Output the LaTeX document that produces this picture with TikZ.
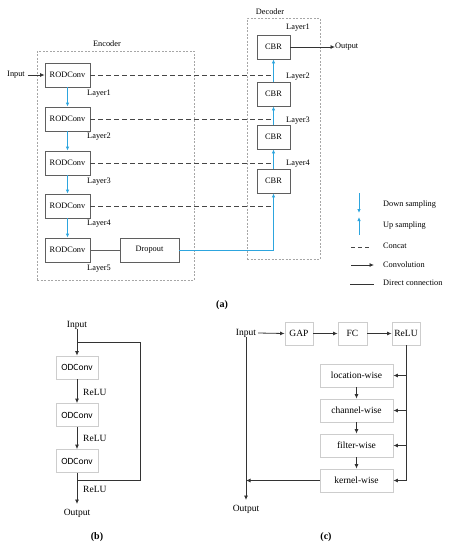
\documentclass[tikz,border=0pt]{standalone}
\usepackage{fontspec}
\setmainfont{Liberation Serif}
\newfontfamily\odfont{Carlito}
\usetikzlibrary{arrows.meta}
\definecolor{bl}{RGB}{45,165,222}
\definecolor{bx}{RGB}{95,95,95}
\definecolor{lbx}{RGB}{205,205,205}
\definecolor{dsh}{RGB}{70,70,70}
\tikzset{
  abox/.style={draw=bx, line width=0.8pt, minimum width=45pt, minimum height=24pt, inner sep=0pt, font=\fontsize{8.3}{10}\selectfont},
  cbox/.style={abox, minimum width=33pt},
  lbox/.style={draw=lbx, line width=0.8pt, minimum height=23pt, inner sep=0pt, font=\fontsize{9.5}{11}\selectfont},
  txa/.style={inner sep=0pt, font=\fontsize{8.3}{10}\selectfont},
  txb/.style={inner sep=0pt, font=\fontsize{9.5}{11}\selectfont},
  blar/.style={draw=bl, line width=0.8pt, -{Latex[length=4pt,width=3.5pt]}},
  blln/.style={draw=bl, line width=0.8pt},
  bkar/.style={draw=black!80, line width=0.8pt, -{Latex[length=4.5pt,width=4pt]}},
  bkln/.style={draw=black!80, line width=0.8pt},
  concat/.style={draw=dsh, line width=0.8pt, dash pattern=on 5pt off 3pt},
  region/.style={draw=black!35, line width=0.5pt, dash pattern=on 2pt off 1.5pt},
}
\begin{document}
\begin{tikzpicture}[x=1pt,y=-1pt]
\useasboundingbox (0,0) rectangle (449,550);
% ---------- (a) ----------
\node[region, minimum width=157pt, minimum height=229pt, inner sep=0pt] (enc) at (115.5,165.5) {};
\node[region, minimum width=73pt, minimum height=241pt, inner sep=0pt] (dec) at (283.5,138.5) {};
\node[txa] (enct) at (107,44) {Encoder};
\node[txa] (dect) at (270,12) {Decoder};

\node[abox] (r1) at (67.5,75) {RODConv};
\node[abox] (r2) at (67.5,119) {RODConv};
\node[abox] (r3) at (67.5,163) {RODConv};
\node[abox] (r4) at (67.5,206) {RODConv};
\node[abox] (r5) at (67.5,250) {RODConv};
\node[abox, minimum width=59pt] (drop) at (149.5,250) {Dropout};

\node[txa] (l1) at (99,94) {Layer1};
\node[txa] (l2) at (99,137) {Layer2};
\node[txa] (l3) at (99,182) {Layer3};
\node[txa] (l4) at (99,224) {Layer4};
\node[txa] (l5) at (99,269) {Layer5};

\node[cbox] (c1) at (273.5,47) {CBR};
\node[cbox] (c2) at (273.5,94) {CBR};
\node[cbox] (c3) at (273.5,137) {CBR};
\node[cbox] (c4) at (273.5,181) {CBR};
\node[txa] (d1) at (298,28) {Layer1};
\node[txa] (d2) at (298,77) {Layer2};
\node[txa] (d3) at (298,121) {Layer3};
\node[txa] (d4) at (298,164) {Layer4};

\node[txa] (ain) at (16,75) {Input};
\node[txa, anchor=west] (aout) at (335,47) {Output};
\draw[bkar] (ain.east) ++(3,0) coordinate (ainr) (ainr) -- (r1.west);
\draw[bkar] (c1.east) -- (aout.west);

\draw[blar] (r1.south) -- (r2.north);
\draw[blar] (r2.south) -- (r3.north);
\draw[blar] (r3.south) -- (r4.north);
\draw[blar] (r4.south) -- (r5.north);
\draw[blar] (c2.north) -- (c1.south);
\draw[blar] (c3.north) -- (c2.south);
\draw[blar] (c4.north) -- (c3.south);
\draw[bkln, draw=bx] (r5.east) -- (drop.west);
\draw[blar] (drop.east) -| (c4.south);

\draw[concat] (r1.east) -- (c1.south |- r1.east);
\draw[concat] (r2.east) -- (c2.south |- r2.east);
\draw[concat] (r3.east) -- (c3.south |- r3.east);
\draw[concat] (r4.east) -- (c4.south |- r4.east);

% legend
\coordinate (lgA) at (359,193);
\coordinate (lgB) at (359,213);
\coordinate (lgC) at (359,235);
\coordinate (lgD) at (359,217);
\draw[blar] (lgA) -- (lgB);
\draw[blar] (lgC) -- (lgD);
\node[txa, anchor=west] (lt1) at (383,205) {Down sampling};
\node[txa, anchor=west] (lt2) at (383,226) {Up sampling};
\node[txa, anchor=west] (lt3) at (383,246) {Concat};
\node[txa, anchor=west] (lt4) at (383,265) {Convolution};
\node[txa, anchor=west] (lt5) at (383,283) {Direct connection};
\coordinate (lc1) at (351,247); \coordinate (lc2) at (371,247);
\draw[concat, dash pattern=on 4pt off 3pt] (lc1) -- (lc2);
\coordinate (lv1) at (351,265); \coordinate (lv2) at (374,265);
\draw[bkar] (lv1) -- (lv2);
\coordinate (ld1) at (350,284); \coordinate (ld2) at (374,284);
\draw[bkln] (ld1) -- (ld2);
\node[inner sep=0pt, font=\fontsize{10}{12}\selectfont\bfseries] (pa) at (222,305) {(a)};

% ---------- (b) ----------
\node[txb] (bin) at (77,325) {Input};
\node[lbox, minimum width=42pt, font=\odfont\fontsize{9.5}{11}\selectfont] (o1) at (77,367.5) {ODConv};
\node[lbox, minimum width=42pt, font=\odfont\fontsize{9.5}{11}\selectfont] (o2) at (77,415) {ODConv};
\node[lbox, minimum width=42pt, font=\odfont\fontsize{9.5}{11}\selectfont] (o3) at (77,461) {ODConv};
\node[txb] (bout) at (77,513) {Output};
\coordinate (bj1) at (77,342);
\coordinate (bj2) at (140,342);
\coordinate (bj3) at (140,480);
\coordinate (bj4) at (77,480);
\coordinate (bend) at (77,504);
\draw[bkar] (bin.south) -- (o1.north);
\draw[bkln] (bj1) -- (bj2) -- (bj3) -- (bj4);
\draw[bkar] (o1.south) -- (o2.north);
\draw[bkar] (o2.south) -- (o3.north);
\draw[bkar] (o3.south) -- (bend);
\node[txb, anchor=west] (rl1) at (83,392) {ReLU};
\node[txb, anchor=west] (rl2) at (83,438) {ReLU};
\node[txb, anchor=west] (rl3) at (83,489) {ReLU};
\node[inner sep=0pt, font=\fontsize{10}{12}\selectfont\bfseries] (pb) at (97,537) {(b)};

% ---------- (c) ----------
\node[txb] (cin) at (246,333) {Input};
\node[lbox, minimum width=28pt] (gap) at (299,333.5) {GAP};
\node[lbox, minimum width=29pt] (fc) at (352.5,333.5) {FC};
\node[lbox, minimum width=28pt] (relu) at (406,333.5) {ReLU};
\node[lbox, minimum width=73pt] (loc) at (356.5,375.5) {location-wise};
\node[lbox, minimum width=73pt] (chn) at (356.5,410.5) {channel-wise};
\node[lbox, minimum width=73pt] (fil) at (356.5,445.5) {filter-wise};
\node[lbox, minimum width=73pt] (ker) at (356.5,480.5) {kernel-wise};
\node[txb] (cout) at (246,509) {Output};
\draw[bkar] (cin.east) ++(2,0) coordinate (cinr) (cinr) -- (gap.west);
\draw[bkar] (gap.east) -- (fc.west);
\draw[bkar] (fc.east) -- (relu.west);
\coordinate (rb) at (406,480.5);
\draw[bkln] (relu.south) -- (rb);
\draw[bkar] (relu.south |- loc.east) -- (loc.east);
\draw[bkar] (relu.south |- chn.east) -- (chn.east);
\draw[bkar] (relu.south |- fil.east) -- (fil.east);
\draw[bkar] (rb) -- (ker.east);
\draw[bkar] (loc.south) -- (chn.north);
\draw[bkar] (chn.south) -- (fil.north);
\draw[bkar] (fil.south) -- (ker.north);
\coordinate (cj) at (246,480.5);
\coordinate (cend) at (246,500);
\draw[bkar] (ker.west) -- (cj);
\draw[bkar] (cin.south) -- (cend);
\node[inner sep=0pt, font=\fontsize{10}{12}\selectfont\bfseries] (pc) at (326,537) {(c)};
\end{tikzpicture}
\end{document}
